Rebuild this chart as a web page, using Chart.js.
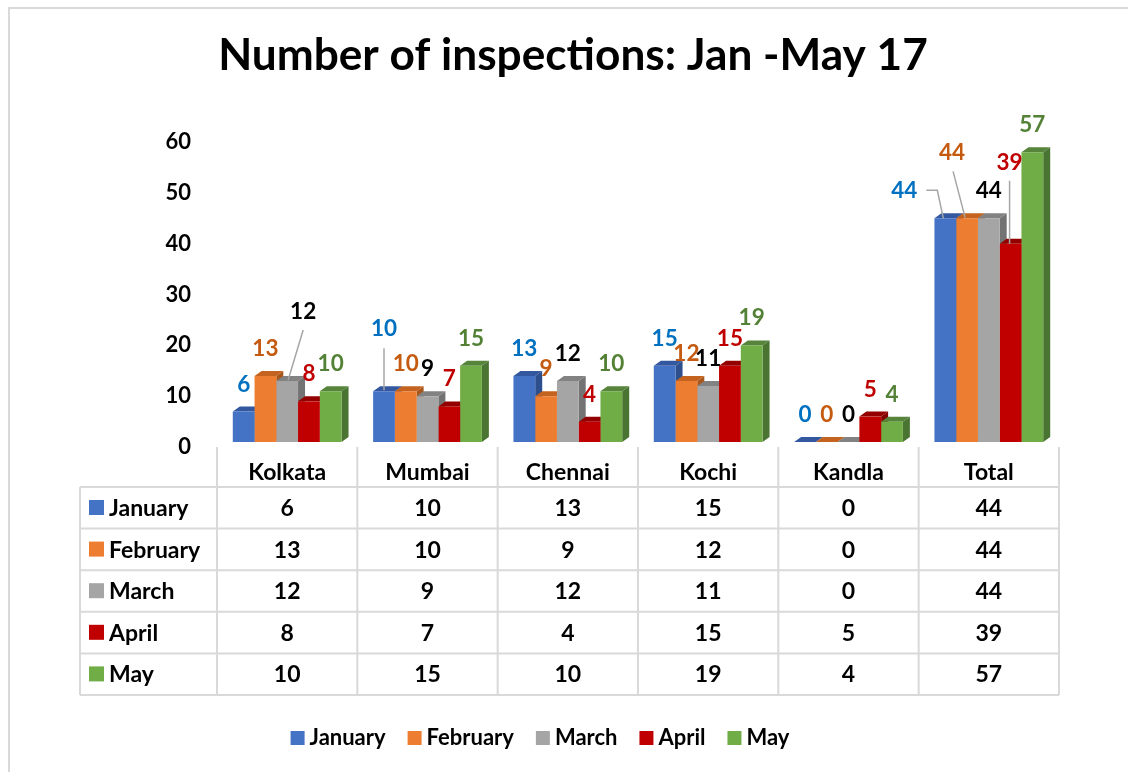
<!DOCTYPE html>
<html lang="en">
<head>
<meta charset="UTF-8">
<title>Number of inspections: Jan -May 17</title>
<script src="https://cdn.jsdelivr.net/npm/chart.js"></script>
<style>
  html, body { margin: 0; padding: 0; background: #fff; overflow: hidden; }
  .wrap { position: relative; width: 1128px; height: 772px; }
  /* the excel chart frame only shows its top and left edge here */
  .edge { position: absolute; left: 8px; top: 7px; width: 1200px; height: 900px;
          border-top: 2px solid #d9d9d9; border-left: 2px solid #d9d9d9; }
  canvas { position: absolute; left: 0; top: 0; }
</style>
</head>
<body>
<div class="wrap">
  <div class="edge"></div>
  <canvas id="chartBar" width="1128" height="772"></canvas>
</div>

<script>
// data
const titleText = 'Number of inspections: Jan -May 17'
const cities = ['Kolkata', 'Mumbai', 'Chennai', 'Kochi', 'Kandla', 'Total']
const months = ['January', 'February', 'March', 'April', 'May']
const january = [6, 10, 13, 15, 0, 44]
const february = [13, 10, 9, 12, 0, 44]
const march = [12, 9, 12, 11, 0, 44]
const april = [8, 7, 4, 15, 5, 39]
const may = [10, 15, 10, 19, 4, 57]
const yTicks = [0, 10, 20, 30, 40, 50, 60]

const series = [january, february, march, april, may]

// colours
const fills = ['#4472C4', '#ED7D31', '#A5A5A5', '#C00000', '#70AD47']
const tops = ['#34589F', '#C3631F', '#828282', '#940000', '#55843A']
const sides = ['#2E4F8E', '#A9561B', '#737373', '#820000', '#4A7432']
const labelColors = ['#0070C0', '#C55A11', '#000000', '#C00000', '#538135']

const FONT = 'Lato, "Open Sans", sans-serif'
const DEPTH_X = 7, DEPTH_Y = 5

// labels Excel had dragged off their default spot; offsets from bar centre / bar top
const labelMoves = {
  '2,0': { dx: 16, base: -62, leader: [[16, -51], [1, -1]] },
  '0,1': { dx: 0, base: -55, leader: [[0, -43], [0, -1]] },
  '0,5': { dx: -41, base: -20, leader: [[-19, -28], [-8, -28], [-2, 0]] },
  '1,5': { dx: -15, base: -58, leader: [[-14, -47], [-2, -1]] },
  '3,5': { dx: -1, base: -74, leader: [[-1, -63], [-1, 0]] },
}

// side + top faces, drawn before chart.js paints the fronts
const faces3d = {
  id: 'faces3d',
  beforeDatasetsDraw(chart) {
    const ctx = chart.ctx
    ctx.save()
    chart.data.datasets.forEach((ds, i) => {
      chart.getDatasetMeta(i).data.forEach(bar => {
        const { x, y, base, width } = bar.getProps(['x', 'y', 'base', 'width'], true)
        const x0 = x - width / 2, x1 = x + width / 2
        ctx.fillStyle = sides[i]
        ctx.beginPath()
        ctx.moveTo(x1, y)
        ctx.lineTo(x1 + DEPTH_X, y - DEPTH_Y)
        ctx.lineTo(x1 + DEPTH_X, base - DEPTH_Y)
        ctx.lineTo(x1, base)
        ctx.closePath()
        ctx.fill()
        ctx.fillStyle = tops[i]
        ctx.beginPath()
        ctx.moveTo(x0, y)
        ctx.lineTo(x0 + DEPTH_X, y - DEPTH_Y)
        ctx.lineTo(x1 + DEPTH_X, y - DEPTH_Y)
        ctx.lineTo(x1, y)
        ctx.closePath()
        ctx.fill()
      })
    })
    ctx.restore()
  }
}

const valueLabels = {
  id: 'valueLabels',
  afterDatasetsDraw(chart) {
    const ctx = chart.ctx
    ctx.save()
    ctx.font = 'bold 22.5px ' + FONT
    ctx.textAlign = 'center'
    ctx.textBaseline = 'alphabetic'
    chart.data.datasets.forEach((ds, i) => {
      chart.getDatasetMeta(i).data.forEach((bar, j) => {
        const { x, y } = bar.getProps(['x', 'y'], true)
        const move = labelMoves[i + ',' + j]
        if (move && move.leader) {
          ctx.strokeStyle = '#A6A6A6'
          ctx.lineWidth = 1.5
          ctx.beginPath()
          move.leader.forEach((p, k) => {
            if (k === 0) ctx.moveTo(x + p[0], y + p[1])
            else ctx.lineTo(x + p[0], y + p[1])
          })
          ctx.stroke()
        }
        ctx.fillStyle = labelColors[i]
        ctx.fillText(ds.data[j], x + (move ? move.dx : 0), y + (move ? move.base : -20))
      })
    })
    ctx.restore()
  }
}

// title, data table and legend
const extras = {
  id: 'extras',
  afterDraw(chart) {
    const { ctx, chartArea, scales: { x } } = chart
    ctx.save()

    // title, sized to the width it has in the original
    let size = 40
    ctx.font = 'bold ' + size + 'px ' + FONT
    size = size * 710 / ctx.measureText(titleText).width
    ctx.font = 'bold ' + size.toFixed(1) + 'px ' + FONT
    ctx.fillStyle = '#000'
    ctx.textAlign = 'center'
    ctx.fillText(titleText, 573, 70)

    // table grid
    const colW = (chartArea.right - chartArea.left) / cities.length
    const headTop = chartArea.bottom + 5
    const bodyTop = chartArea.bottom + 45
    const rowH = 41.6
    const left = 80
    ctx.strokeStyle = '#D9D9D9'
    ctx.lineWidth = 2
    ctx.beginPath()
    for (let r = 0; r <= months.length; r++) {
      ctx.moveTo(left, bodyTop + r * rowH)
      ctx.lineTo(chartArea.right, bodyTop + r * rowH)
    }
    ctx.moveTo(left, bodyTop)
    ctx.lineTo(left, bodyTop + months.length * rowH)
    for (let c = 0; c <= cities.length; c++) {
      ctx.moveTo(chartArea.left + c * colW, headTop)
      ctx.lineTo(chartArea.left + c * colW, bodyTop + months.length * rowH)
    }
    ctx.stroke()

    ctx.font = 'bold 23px ' + FONT
    ctx.fillStyle = '#000'
    ctx.textAlign = 'center'
    cities.forEach((c, i) => ctx.fillText(c, x.getPixelForValue(i), chartArea.bottom + 38))

    series.forEach((vals, r) => {
      const base = bodyTop + r * rowH + 29
      ctx.textAlign = 'center'
      ctx.fillStyle = '#000'
      vals.forEach((v, i) => ctx.fillText(v, x.getPixelForValue(i), base))
      ctx.fillStyle = fills[r]
      ctx.fillRect(89, base - 16, 15, 15)
      ctx.fillStyle = '#000'
      ctx.textAlign = 'left'
      ctx.fillText(months[r], 109, base)
    })

    // legend
    ctx.font = 'bold 22px ' + FONT
    const widths = months.map(m => 14 + 5 + ctx.measureText(m).width)
    const total = widths.reduce((a, b) => a + b, 0) + 22 * (months.length - 1)
    let lx = 540 - total / 2
    months.forEach((m, r) => {
      ctx.fillStyle = fills[r]
      ctx.fillRect(lx, 731, 14, 14)
      ctx.fillStyle = '#000'
      ctx.textAlign = 'left'
      ctx.fillText(m, lx + 19, 745)
      lx += widths[r] + 22
    })
    ctx.restore()
  }
}

const dataBarChart = {
  labels: cities,
  datasets: months.map((m, i) => ({
    label: m,
    data: series[i],
    backgroundColor: fills[i],
    borderWidth: 0,
    categoryPercentage: 0.775,
    barPercentage: 1,
  })),
}

const configBarChart = {
  type: 'bar',
  data: dataBarChart,
  options: {
    responsive: false,
    animation: false,
    layout: { padding: { top: 137, left: 8, right: 69, bottom: 0 } },
    plugins: {
      legend: { display: false },
      title: { display: false },
      tooltip: { enabled: false },
    },
    scales: {
      x: {
        grid: { display: false },
        border: { display: false },
        ticks: { display: false },
        afterFit: s => { s.height = 330 },
      },
      y: {
        min: 0,
        max: 60,
        grid: { display: false, drawTicks: false, tickLength: 0 },
        border: { display: false },
        afterBuildTicks: s => { s.ticks = yTicks.map(v => ({ value: v })) },
        afterFit: s => { s.width = 209 },
        ticks: {
          padding: 26,
          labelOffset: 5,
          color: '#000',
          font: { family: FONT, size: 22, weight: 'bold' },
        },
      },
    },
  },
  plugins: [faces3d, valueLabels, extras],
}

new Chart(document.getElementById('chartBar'), configBarChart)
</script>
</body>
</html>
